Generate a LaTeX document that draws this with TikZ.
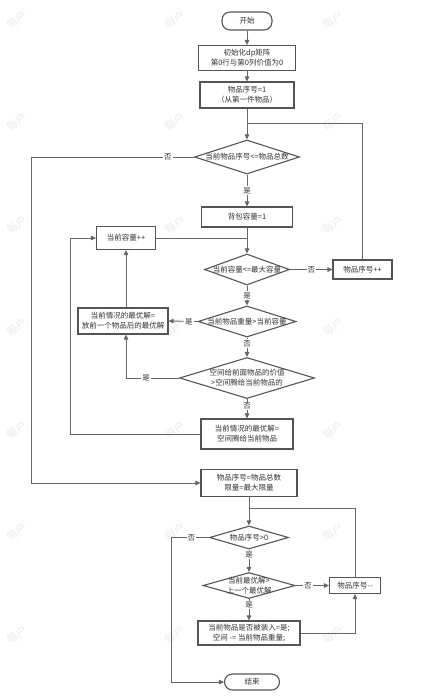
\documentclass[tikz,border=0pt]{standalone}
\usepackage{fontspec}
\usepackage{tikz}
\usetikzlibrary{shapes.geometric,arrows.meta}
\newfontfamily\cjk{Noto Sans CJK SC}
\definecolor{boxc}{HTML}{555555}
\definecolor{linec}{HTML}{666666}
\definecolor{txtc}{HTML}{333333}
\definecolor{markc}{HTML}{EBEBEB}

\begin{document}
\begin{tikzpicture}[x=1pt,y=-1pt,
  every node/.style={font=\cjk\fontsize{7.5}{10}\selectfont, text=txtc},
  box/.style={draw=boxc, line width=1.1pt, fill=white, align=center, inner sep=1pt},
  term/.style={box, rounded corners=8pt},
  dia/.style={shape=diamond, draw=boxc, line width=1.1pt, inner sep=0pt, fill=white},
  line/.style={draw=linec, line width=0.9pt},
  arr/.style={line, -{Triangle[length=5pt,width=4.5pt]}},
  yn/.style={fill=white, inner sep=1pt}]
  \useasboundingbox (0,0) rectangle (426,698);
  % watermark
  \foreach \wx in {17,175,333}
    \foreach \wy in {20,122,225,327,430,532,635}
      \node[text=markc, rotate=35, font=\cjk\fontsize{11}{11}\selectfont] (wm-\wx-\wy) at (\wx,\wy) {每户};

  % knapsack table
  \node[term, minimum width=50pt, minimum height=18pt] (start) at (247,21) {开始};
  \node[box, minimum width=97pt, minimum height=25pt] (init) at (247,58) {初始化dp矩阵\\第0行与第0列价值为0};
  \node[box, minimum width=94pt, minimum height=26pt] (first) at (247,95) {物品序号=1\\（从第一件物品）};
  \node[dia, minimum width=105pt, minimum height=34pt, label=center:{当前物品序号<=物品总数}] (hasitem) at (247,157) {};
  \node[box, minimum width=91pt, minimum height=20pt] (capone) at (247,217) {背包容量=1};
  \node[box, minimum width=59pt, minimum height=23pt] (capinc) at (126,238) {当前容量++};
  \node[dia, minimum width=85pt, minimum height=31pt, label=center:{当前容量<=最大容量}] (capok) at (247,269.5) {};
  \node[box, minimum width=59pt, minimum height=19pt] (nextitem) at (362.5,269.5) {物品序号++};
  \node[dia, minimum width=98pt, minimum height=31pt, label=center:{当前物品重量>当前容量}] (tooheavy) at (247,321.5) {};
  \node[box, minimum width=90pt, minimum height=26pt] (keep) at (123,321) {当前情况的最优解=\\放前一个物品后的最优解};
  \node[dia, minimum width=135pt, minimum height=41pt, label={[align=center]center:{空间给前面物品的价值\\>空间腾给当前物品的}}] (better) at (247,378) {};
  \node[box, minimum width=92pt, minimum height=30pt] (take) at (247,434) {当前情况的最优解=\\空间腾给当前物品};

  % backtracking
  \node[box, minimum width=96pt, minimum height=27pt] (back) at (249,483) {物品序号=物品总数\\限量=最大限量};
  \node[dia, minimum width=79pt, minimum height=23pt, label=center:{物品序号>0}] (remain) at (249,537.5) {};
  \node[dia, minimum width=92pt, minimum height=26pt, label={[align=center]center:{当前最优解>\\上一个最优解}}] (changed) at (249,585.5) {};
  \node[box, minimum width=51pt, minimum height=16pt] (previtem) at (355,585.5) {物品序号--};
  \node[box, minimum width=102pt, minimum height=24pt] (mark) at (249,633) {当前物品是否被装入=是;\\空间 -= 当前物品重量;};
  \node[term, minimum width=55pt, minimum height=16pt] (stop) at (252,682) {结束};

  \coordinate (outx) at (31,0);
  \coordinate (loopx) at (70,0);
  \coordinate (endx) at (171,0);
  \coordinate (join1) at (247,123);
  \coordinate (join2) at (249,508);

  \draw[arr] (start.south) -- (init.north);
  \draw[arr] (init.south) -- (first.north);
  \draw[arr] (first.south) -- (hasitem.north);
  \draw[line] (nextitem.north) |- (join1);
  \draw[arr] (hasitem.west) -| (outx |- back.west) node[yn, pos=0.08] {否} -- (back.west);
  \draw[arr] (hasitem.south) -- (capone.north) node[yn, midway] {是};
  \draw[arr] (capone.south) -- (capok.north);
  \draw[line] (capinc.east) -- (capinc.east -| capone.south);
  \draw[arr] (capok.east) -- (nextitem.west) node[yn, midway] {否};
  \draw[arr] (capok.south) -- (tooheavy.north) node[yn, midway] {是};
  \draw[arr] (tooheavy.west) -- (keep.east) node[yn, pos=0.3] {是};
  \draw[arr] (keep.north -| capinc.south) -- (capinc.south);
  \draw[arr] (tooheavy.south) -- (better.north) node[yn, pos=0.3] {否};
  \draw[arr] (better.west) -| (keep.south -| capinc.south) node[yn, pos=0.31] {是};
  \draw[arr] (better.south) -- (take.north) node[yn, pos=0.35] {否};
  \draw[arr] (take.west) -| (loopx |- capinc.west) -- (capinc.west);
  \draw[arr] (back.south) -- (remain.north);
  \draw[line] (previtem.north) |- (join2);
  \draw[arr] (remain.west) -| (endx |- stop.west) node[yn, pos=0.23] {否} -- (stop.west);
  \draw[arr] (remain.south) -- (changed.north) node[yn, pos=0.25] {是};
  \draw[arr] (changed.east) -- (previtem.west) node[yn, pos=0.37] {否};
  \draw[arr] (changed.south) -- (mark.north) node[yn, pos=0.27] {是};
  \draw[arr] (mark.east) -| (previtem.south);
\end{tikzpicture}
\end{document}
